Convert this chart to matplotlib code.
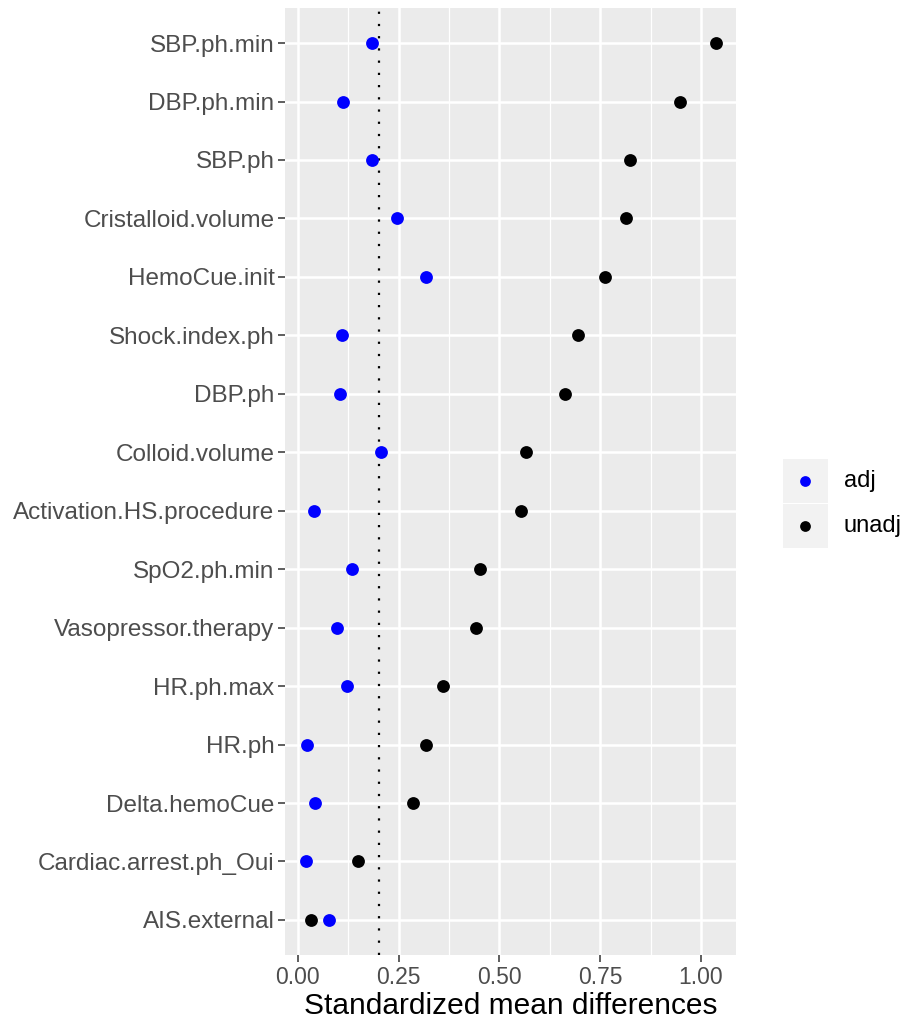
import matplotlib.pyplot as plt
from matplotlib.patches import Rectangle

# covariates, top to bottom
covariates = ['SBP.ph.min', 'DBP.ph.min', 'SBP.ph', 'Cristalloid.volume',
              'HemoCue.init', 'Shock.index.ph', 'DBP.ph', 'Colloid.volume',
              'Activation.HS.procedure', 'SpO2.ph.min', 'Vasopressor.therapy',
              'HR.ph.max', 'HR.ph', 'Delta.hemoCue', 'Cardiac.arrest.ph_Oui',
              'AIS.external']

# standardized mean differences
adj = [0.184, 0.111, 0.183, 0.247, 0.318, 0.110, 0.105, 0.206,
       0.039, 0.133, 0.098, 0.121, 0.023, 0.042, 0.020, 0.078]
unadj = [1.037, 0.949, 0.823, 0.813, 0.763, 0.694, 0.663, 0.566,
         0.554, 0.453, 0.441, 0.359, 0.317, 0.286, 0.148, 0.032]

threshold = 0.2
groups = ['adj', 'unadj']
group_colors = {'adj': '#0000FF', 'unadj': '#000000'}
xticks = [0.0, 0.25, 0.5, 0.75, 1.0]
xtick_labels = ['0.00', '0.25', '0.50', '0.75', '1.00']

plt.rcParams['font.family'] = ['Liberation Sans', 'DejaVu Sans']

W, H = 903, 1025
fig = plt.figure(figsize=(W / 100, H / 100), dpi=100)
ax = fig.add_axes([285 / W, 1 - 955 / H, (736 - 285) / W, (955 - 8) / H])

n = len(covariates)
ypos = list(range(n - 1, -1, -1))

ax.set_facecolor('#EBEBEB')
for s in ax.spines.values():
    s.set_visible(False)

# grid
for v in [0.125, 0.375, 0.625, 0.875]:
    ax.axvline(v, color='white', lw=0.9, zorder=0)
for v in xticks:
    ax.axvline(v, color='white', lw=1.8, zorder=0)
for y in ypos:
    ax.axhline(y, color='white', lw=1.8, zorder=0)

ax.axvline(threshold, color='black', lw=1.6, ls=(0, (1, 4.5)), zorder=1)

ax.scatter(unadj, ypos, s=85, color=group_colors['unadj'], zorder=3, linewidths=0)
ax.scatter(adj, ypos, s=85, color=group_colors['adj'], zorder=3, linewidths=0)

ax.set_xlim(-0.032, 1.087)
ax.set_ylim(-0.6, n - 0.4)
ax.set_yticks(ypos)
ax.set_yticklabels(covariates)
ax.set_xticks(xticks)
ax.set_xticklabels(xtick_labels)
ax.tick_params(axis='both', colors='#333333', length=5, width=1.1,
               labelsize=16.5, labelcolor='#4D4D4D', pad=3)
ax.tick_params(axis='y', labelsize=17.5, pad=2.5)
ax.set_xlabel('Standardized mean differences', fontsize=21.5, labelpad=2)

# legend
lax = fig.add_axes([783 / W, 1 - 549 / H, 45 / W, 91 / H])
lax.set_xlim(0, 1)
lax.set_ylim(0, 2)
lax.axis('off')
for i, g in enumerate(groups):
    yc = 1.5 - i
    lax.add_patch(Rectangle((0, yc - 0.485), 1, 0.97, color='#F2F2F2', lw=0))
    lax.scatter([0.5], [yc], s=60, color=group_colors[g], linewidths=0)
    lax.text(1.35, yc, g, fontsize=17, va='center', ha='left',
             transform=lax.transData, clip_on=False)

fig.savefig('out.png', dpi=100)
